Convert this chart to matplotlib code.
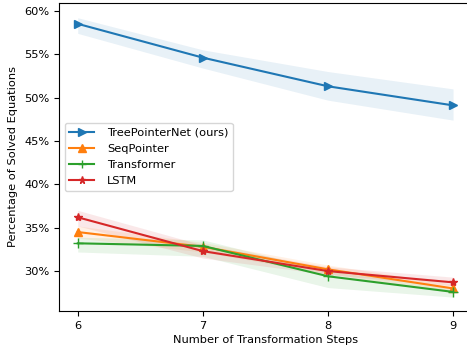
import numpy as np
import matplotlib
matplotlib.use("Agg")
import matplotlib.pyplot as plt
from matplotlib.ticker import FuncFormatter

# --------------------------------------------------
# Data (in %)
# --------------------------------------------------
steps = [6, 7, 8, 9]

tree_mean = [58.5, 54.6, 51.3, 49.1]
tree_low = [57.4, 53.4, 49.7, 47.4]
tree_high = [59.2, 55.5, 53.0, 51.0]

seq_mean = [34.5, 32.8, 30.2, 28.0]
seq_low = [33.8, 32.2, 29.7, 27.5]
seq_high = [35.2, 33.3, 30.7, 28.5]

trans_mean = [33.2, 32.9, 29.4, 27.6]
trans_low = [32.2, 31.7, 28.1, 27.0]
trans_high = [33.9, 33.6, 30.0, 28.1]

lstm_mean = [36.2, 32.3, 30.0, 28.7]
lstm_low = [35.2, 31.5, 29.6, 28.3]
lstm_high = [37.0, 33.0, 30.5, 29.3]

labels = ["TreePointerNet (ours)", "SeqPointer", "Transformer", "LSTM"]
markers = [">", "^", "+", "*"]
colors = ["#1f77b4", "#ff7f0e", "#2ca02c", "#d62728"]

series = [
    (tree_mean, tree_low, tree_high),
    (seq_mean, seq_low, seq_high),
    (trans_mean, trans_low, trans_high),
    (lstm_mean, lstm_low, lstm_high),
]

# --------------------------------------------------
# Plot
# --------------------------------------------------
plt.rcParams["font.size"] = 8.2
fig = plt.figure(figsize=(4.67, 3.45), dpi=100)
# right edge of the axes runs just past the image, as in the reference
ax = fig.add_axes([0.1263, 0.0986, 0.884, 0.8927])
ax.spines["right"].set_visible(False)

for (mean, low, high), lab, mk, col in zip(series, labels, markers, colors):
    ax.fill_between(steps, low, high, color=col, alpha=0.1, linewidth=0)
    ax.plot(steps, mean, marker=mk, color=col, label=lab, linewidth=1.5,
            markersize=6 if mk != "+" else 7)

ax.set_xlim(5.85, 9.15)
ax.set_ylim(25.4, 60.9)
ax.set_xticks(steps)
ax.set_yticks([30, 35, 40, 45, 50, 55, 60])
ax.yaxis.set_major_formatter(FuncFormatter(lambda v, p: f"{v:.0f}%"))
ax.set_xlabel("Number of Transformation Steps", labelpad=3)
ax.set_ylabel("Percentage of Solved Equations")
ax.legend(loc="center left", fontsize=8.2, labelspacing=0.55,
          handlelength=2.2, handletextpad=1.1, markerscale=0.85)

fig.savefig("out.png", dpi=100)
